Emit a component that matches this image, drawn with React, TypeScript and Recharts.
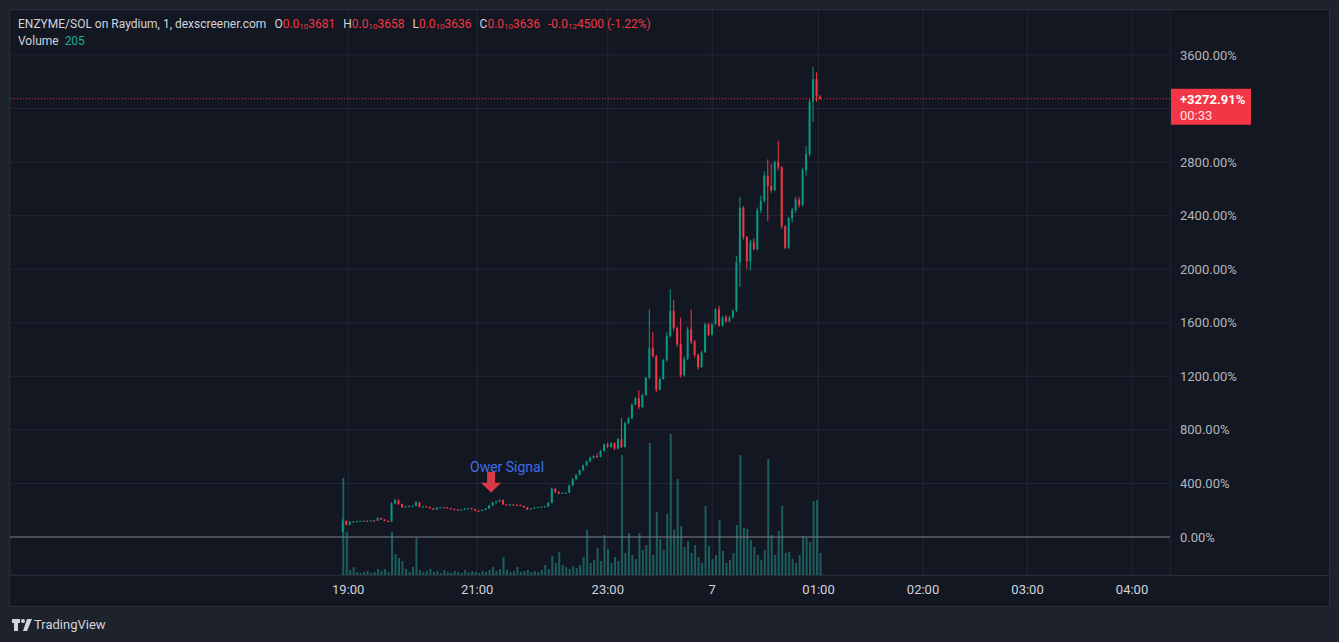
import React from "react"
import { ComposedChart, Bar, XAxis, YAxis, CartesianGrid, ReferenceLine, ReferenceDot } from "recharts"

// 2-minute candles, t = minute slot on TradingView's index-based time scale
const timeTicks = [3, 77, 152, 212, 273, 333, 393, 453]
const timeLabels = ["19:00", "21:00", "23:00", "7", "01:00", "02:00", "03:00", "04:00"]
const pctTicks = [0, 400, 800, 1200, 1600, 2000, 2400, 2800, 3200, 3600]

const open = [
  40, 120, 92, 112, 115, 118, 119, 121, 120, 123, 122, 140, 130, 120, 116, 250, 275, 245, 222, 228,
  230, 232, 258, 226, 228, 224, 214, 205, 218, 222, 220, 215, 208, 203, 201, 204, 212, 214, 207, 196,
  194, 202, 212, 235, 258, 265, 276, 244, 240, 242, 240, 239, 232, 222, 205, 212, 220, 224, 226, 228,
  255, 360, 338, 325, 330, 332, 385, 432, 465, 500, 535, 565, 592, 605, 598, 642, 692, 672, 700, 660,
  730, 672, 850, 885, 990, 1035, 970, 1060, 1190, 1410, 1350, 1100, 1180, 1320, 1500, 1690, 1560, 1440, 1210, 1330,
  1550, 1460, 1360, 1270, 1380, 1590, 1510, 1590, 1700, 1580, 1640, 1610, 1640, 1690, 2050, 2460, 2240, 2060, 2200, 2150,
  2440, 2510, 2700, 2620, 2590, 2800, 2760, 2320, 2160, 2380, 2440, 2520, 2480, 2740, 2860, 3250, 3420, 3290,
]
const high = [
  135, 125, 120, 118, 120, 122, 123, 124, 125, 126, 148, 145, 132, 124, 260, 285, 282, 250, 232, 234,
  236, 268, 262, 232, 232, 228, 218, 222, 225, 226, 224, 218, 212, 207, 206, 215, 216, 218, 210, 200,
  205, 215, 240, 262, 270, 280, 282, 248, 246, 246, 244, 242, 236, 224, 215, 222, 226, 228, 230, 262,
  370, 365, 342, 332, 334, 390, 440, 470, 505, 540, 570, 600, 610, 625, 650, 700, 705, 708, 705, 740,
  890, 860, 895, 1000, 1045, 1095, 1070, 1195, 1700, 1530, 1360, 1190, 1330, 1530, 1850, 1770, 1570, 1640, 1350, 1570,
  1700, 1470, 1370, 1390, 1600, 1600, 1600, 1710, 1725, 1650, 1660, 1650, 1700, 2100, 2540, 2470, 2250, 2220, 2230, 2460,
  2550, 2730, 2820, 2790, 2810, 2960, 2770, 2330, 2390, 2460, 2540, 2540, 2760, 2920, 3270, 3510, 3470, 3300,
]
const low = [
  30, 85, 88, 108, 112, 115, 117, 118, 118, 120, 120, 128, 118, 112, 112, 245, 240, 215, 218, 224,
  225, 230, 222, 220, 222, 210, 200, 203, 215, 218, 212, 205, 200, 198, 198, 202, 208, 205, 193, 190,
  192, 200, 210, 232, 250, 260, 240, 236, 236, 238, 236, 230, 218, 200, 202, 210, 216, 220, 222, 226,
  252, 330, 320, 322, 326, 330, 380, 428, 460, 495, 530, 560, 585, 590, 595, 638, 665, 668, 650, 655,
  665, 668, 840, 880, 985, 955, 965, 1055, 1180, 1340, 1080, 1095, 1175, 1310, 1490, 1540, 1420, 1190, 1200, 1320,
  1440, 1340, 1250, 1262, 1375, 1500, 1505, 1585, 1570, 1570, 1600, 1605, 1635, 1680, 1870, 2220, 2000, 1990, 2140, 2140,
  2420, 2500, 2360, 2570, 2585, 2740, 2300, 2150, 2150, 2350, 2420, 2460, 2470, 2700, 2840, 3100, 3250, 3270,
]
const close = [
  120, 92, 112, 115, 118, 119, 121, 120, 123, 122, 140, 130, 120, 116, 250, 275, 245, 222, 228, 230,
  232, 258, 226, 228, 224, 214, 205, 218, 222, 220, 215, 208, 203, 201, 204, 212, 214, 207, 196, 194,
  202, 212, 235, 258, 265, 276, 244, 240, 242, 240, 239, 232, 222, 205, 212, 220, 224, 226, 228, 255,
  360, 338, 325, 330, 332, 385, 432, 465, 500, 535, 565, 592, 605, 598, 642, 692, 672, 700, 660, 730,
  672, 850, 885, 990, 1035, 970, 1060, 1190, 1410, 1350, 1100, 1180, 1320, 1500, 1690, 1560, 1440, 1210, 1330, 1550,
  1460, 1360, 1270, 1380, 1590, 1510, 1590, 1700, 1580, 1640, 1610, 1640, 1690, 2050, 2460, 2240, 2060, 2200, 2150, 2440,
  2510, 2700, 2620, 2590, 2800, 2760, 2320, 2160, 2380, 2440, 2520, 2480, 2740, 2860, 3250, 3420, 3290, 3272.91,
]
const volume = [
  902, 400, 47, 74, 28, 19, 28, 37, 19, 28, 56, 37, 56, 28, 400, 195, 158, 130, 56, 28,
  74, 344, 47, 28, 37, 56, 28, 37, 19, 47, 28, 19, 37, 28, 19, 47, 28, 37, 28, 19,
  37, 28, 47, 74, 37, 56, 167, 47, 28, 37, 74, 28, 37, 47, 28, 37, 28, 47, 93, 56,
  177, 112, 214, 93, 74, 56, 84, 65, 93, 167, 419, 112, 140, 251, 130, 372, 242, 112, 167, 130,
  1116, 205, 391, 186, 149, 391, 233, 279, 1228, 186, 586, 335, 233, 567, 1311, 419, 893, 456, 260, 316,
  205, 279, 167, 112, 642, 270, 149, 186, 512, 223, 112, 140, 205, 465, 1116, 437, 428, 326, 260, 186,
  140, 233, 1079, 372, 186, 409, 642, 205, 214, 149, 112, 186, 363, 344, 307, 688, 698, 205,
]

const lastPct = 3272.91
const lastVolume = 205
const signal = { t: 85, pct: 330, text: "Ower Signal" }

const rows = close.map((c, i) => ({
  t: i * 2,
  open: open[i],
  high: high[i],
  low: low[i],
  close: c,
  range: [low[i], high[i]],
  volume: volume[i],
}))

const W = 1339
const H = 642
const UP = "#089981"
const DOWN = "#f23645"
const FONT = "Roboto, sans-serif"
const xDomain = [-191.2, 474.8]
const yDomain = [-283.8, 3935.8]

const Candle = (props: any) => {
  const { x, y, width, height, payload } = props
  if (!payload) return null
  const top = Math.min(y, y + height)
  const h = Math.abs(height)
  const span = payload.high - payload.low
  const ppu = span > 0 ? h / span : 0
  const bodyTop = top + (payload.high - Math.max(payload.open, payload.close)) * ppu
  const bodyH = Math.max(1, Math.abs(payload.open - payload.close) * ppu)
  const cx = x + width / 2
  const color = payload.close >= payload.open ? UP : DOWN
  return (
    <g>
      <rect x={cx - 0.5} y={top} width={1} height={Math.max(h, 1)} fill={color} />
      <rect x={cx - 1} y={bodyTop} width={2} height={bodyH} fill={color} />
    </g>
  )
}

const PriceTag = (props: any) => {
  const vb = props.viewBox || {}
  const x0 = vb.x + vb.width + 1
  const y0 = vb.y
  return (
    <g>
      <rect x={x0} y={y0 - 10} width={80} height={36} fill={DOWN} />
      <text x={x0 + 9} y={y0 + 5} fill="#ffffff" fontSize={13} fontWeight={700} fontFamily={FONT}>
        +{lastPct.toFixed(2)}%
      </text>
      <text x={x0 + 9} y={y0 + 21} fill="#ffe0e3" fontSize={13} fontFamily={FONT}>
        00:33
      </text>
    </g>
  )
}

const SignalMark = (props: any) => {
  const { cx, cy } = props
  if (cx == null || cy == null) return null
  const pts = [
    [cx - 4, cy - 21],
    [cx + 4, cy - 21],
    [cx + 4, cy - 10],
    [cx + 10, cy - 10],
    [cx, cy],
    [cx - 10, cy - 10],
    [cx - 4, cy - 10],
  ]
    .map((p) => p.join(","))
    .join(" ")
  return (
    <g>
      <polygon points={pts} fill="#d63a47" />
      <text x={cx + 16} y={cy - 21} textAnchor="middle" fill="#3d6ee8" fontSize={14} fontFamily={FONT}>
        {signal.text}
      </text>
    </g>
  )
}

const Sub = ({ n }: { n: string }) => (
  <span style={{ fontSize: 8, position: "relative", top: 1 }}>{n}</span>
)

export default function App() {
  const red = { color: DOWN }
  return (
    <div
      style={{
        position: "fixed",
        left: 0,
        top: 0,
        width: W,
        height: H,
        background: "#1e222d",
        fontFamily: FONT,
        overflow: "hidden",
      }}
    >
      <div
        style={{
          position: "absolute",
          left: 9,
          top: 9,
          width: 1321,
          height: 598,
          background: "#131722",
          border: "1px solid #2a2e39",
          boxSizing: "border-box",
        }}
      />
      <div style={{ position: "absolute", left: 10, top: 575, width: 1319, height: 1, background: "#2a2e39" }} />

      {/* grid + volume layer */}
      <div style={{ position: "absolute", left: 0, top: 0 }}>
        <ComposedChart width={W} height={H} data={rows} margin={{ top: 10, right: 169, bottom: 67, left: 10 }}>
          <CartesianGrid stroke="#232734" />
          <XAxis dataKey="t" type="number" domain={xDomain} ticks={timeTicks} allowDataOverflow hide />
          <YAxis type="number" domain={yDomain} ticks={pctTicks} allowDataOverflow hide />
          <YAxis yAxisId="vol" type="number" domain={[0, 5255]} allowDataOverflow hide />
          <Bar
            yAxisId="vol"
            dataKey="volume"
            barSize={2}
            fill="#26a69a"
            fillOpacity={0.5}
            isAnimationActive={false}
          />
        </ComposedChart>
      </div>

      {/* candles + axes layer */}
      <div style={{ position: "absolute", left: 0, top: 0 }}>
        <ComposedChart width={W} height={H} data={rows} margin={{ top: 10, right: 10, bottom: 36, left: 10 }}>
          <XAxis
            dataKey="t"
            type="number"
            domain={xDomain}
            ticks={timeTicks}
            tickFormatter={(v: number) => timeLabels[timeTicks.indexOf(v)] ?? ""}
            allowDataOverflow
            height={31}
            tickLine={false}
            tickSize={0}
            tickMargin={10}
            axisLine={false}
            tick={{ fill: "#d1d4dc", fontSize: 13, fontFamily: FONT }}
          />
          <YAxis
            orientation="right"
            type="number"
            domain={yDomain}
            ticks={pctTicks}
            allowDataOverflow
            width={159}
            tickLine={false}
            tickSize={0}
            tickMargin={10}
            axisLine={false}
            tickFormatter={(v: number) => (v === 3200 ? "" : v.toFixed(2) + "%")}
            tick={{ fill: "#b2b5be", fontSize: 13, fontFamily: FONT, textAnchor: "start" }}
          />
          <ReferenceLine y={0} stroke="#787b86" strokeWidth={1} />
          <Bar dataKey="range" barSize={3} shape={<Candle />} isAnimationActive={false} />
          <ReferenceLine
            y={lastPct}
            stroke={DOWN}
            strokeDasharray="1 2"
            strokeWidth={1}
            label={<PriceTag />}
          />
          <ReferenceDot x={signal.t} y={signal.pct} r={0} shape={<SignalMark />} />
        </ComposedChart>
      </div>

      {/* legend */}
      <div style={{ position: "absolute", left: 18, top: 16, fontSize: 12, color: "#d1d4dc", whiteSpace: "nowrap", lineHeight: "16px" }}>
        <span>ENZYME/SOL on Raydium, 1, dexscreener.com</span>
        <span style={{ marginLeft: 8 }}>O</span>
        <span style={red}>0.0<Sub n="10" />3681</span>
        <span style={{ marginLeft: 8 }}>H</span>
        <span style={red}>0.0<Sub n="10" />3658</span>
        <span style={{ marginLeft: 8 }}>L</span>
        <span style={red}>0.0<Sub n="10" />3636</span>
        <span style={{ marginLeft: 8 }}>C</span>
        <span style={red}>0.0<Sub n="10" />3636</span>
        <span style={{ ...red, marginLeft: 8 }}>-0.0<Sub n="12" />4500 (-1.22%)</span>
      </div>
      <div style={{ position: "absolute", left: 18, top: 33, fontSize: 12, color: "#d1d4dc", lineHeight: "16px" }}>
        Volume <span style={{ color: "#22ab94", marginLeft: 3 }}>{lastVolume}</span>
      </div>

      {/* footer */}
      <div style={{ position: "absolute", left: 12, top: 617, display: "flex", alignItems: "center", color: "#d1d4dc", fontSize: 13 }}>
        <svg width={20} height={12} viewBox="0 0 20 12">
          <path d="M0 0h8v4H6v8H2V4H0z" fill="#d1d4dc" />
          <circle cx={11} cy={2} r={2} fill="#d1d4dc" />
          <path d="M15 0h5l-5 12h-4z" fill="#d1d4dc" />
        </svg>
        <span style={{ marginLeft: 2 }}>TradingView</span>
      </div>
    </div>
  )
}
